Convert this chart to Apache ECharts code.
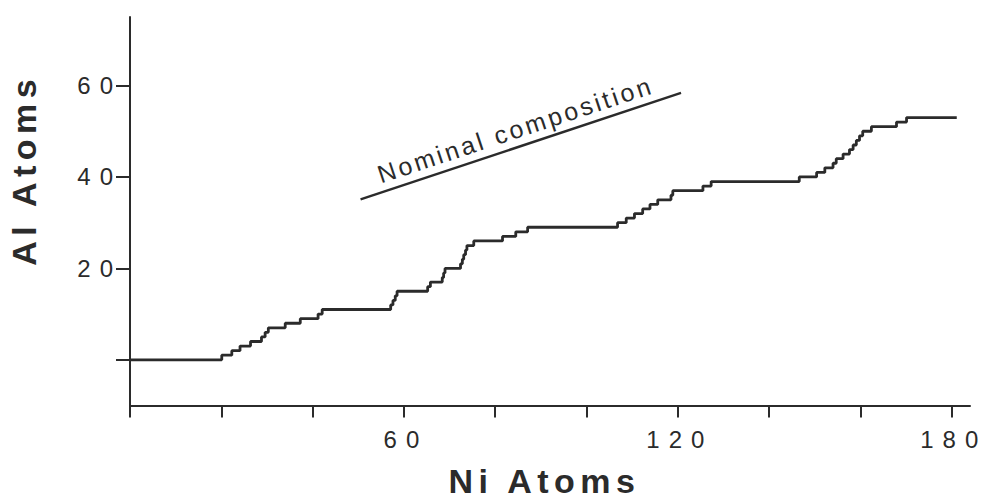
<!DOCTYPE html>
<html>
<head>
<meta charset="utf-8">
<script src="https://cdn.jsdelivr.net/npm/echarts@6/dist/echarts.min.js"></script>
<style>
html,body{margin:0;padding:0;background:#ffffff;}
#chart{width:987px;height:498px;}
</style>
</head>
<body>
<div id="chart"></div>
<script>
// Ni atom count at which each Al atom is detected (step ladder)
const niAtoms = [0,
  20.1, 22.3, 24.1, 26.4, 28.8, 29.6, 30.3,
  34.0, 37.3, 41.2, 42.1,
  57.1, 57.6, 58.1, 58.5,
  65.2, 65.8,
  68.4, 68.7, 69.0,
  72.4, 72.8, 73.1, 73.5, 73.8,
  75.3, 81.6, 84.5, 87.1,
  106.8, 108.7, 110.5, 112.3, 113.9, 115.6, 118.5, 118.9,
  125.5, 127.3,
  146.6, 150.4, 152.2, 154.0, 154.7, 156.2, 157.6, 158.4, 159.1, 159.8, 160.5,
  162.4, 167.9, 170.1,
  181.1];
const alAtoms = [0,
  1, 2, 3, 4, 5, 6, 7,
  8, 9, 10, 11,
  12, 13, 14, 15,
  16, 17,
  18, 19, 20,
  21, 22, 23, 24, 25,
  26, 27, 28, 29,
  30, 31, 32, 33, 34, 35, 36, 37,
  38, 39,
  40, 41, 42, 43, 44, 45, 46, 47, 48, 49, 50,
  51, 52, 53,
  53];

// Nominal composition reference line
const nominalNi = [50.5, 120.7];
const nominalAl = [35.1, 58.4];
const nominalLabel = 'Nominal composition';

// Ticks and labels
const xTickValues = [0, 20, 40, 60, 80, 100, 120, 140, 160, 180];
const xLabelValues = [60, 120, 180];
const yTickValues = [0, 20, 40, 60];
const yLabelValues = [20, 40, 60];

const ink = '#2b2b2b';
const font = 'Liberation Sans';

const chart = echarts.init(document.getElementById('chart'), null, {renderer: 'svg'});

const option = {
  animation: false,
  backgroundColor: '#ffffff',
  grid: {left: 130, right: 17, top: 17, bottom: 92.5, containLabel: false, outerBoundsMode: 'none'},
  xAxis: {
    type: 'value', min: 0, max: 184,
    axisLine: {show: true, onZero: false, lineStyle: {color: ink, width: 2}},
    axisTick: {show: true, inside: false, length: 12, customValues: xTickValues, lineStyle: {color: ink, width: 2}},
    axisLabel: {customValues: xLabelValues, margin: 22, fontSize: 24, color: ink, fontFamily: font, padding: [0, 0, 0, 4]},
    splitLine: {show: false},
    name: 'Ni Atoms', nameLocation: 'middle', nameGap: 58,
    nameTextStyle: {fontSize: 34, fontWeight: 'bold', color: ink, fontFamily: font, padding: [0, 11, 0, 0]}
  },
  yAxis: {
    type: 'value', min: -10, max: 75,
    axisLine: {show: true, onZero: false, lineStyle: {color: ink, width: 2}},
    axisTick: {show: true, inside: false, length: 14, customValues: yTickValues, lineStyle: {color: ink, width: 2}},
    axisLabel: {customValues: yLabelValues, margin: 8, fontSize: 24, color: ink, fontFamily: font},
    splitLine: {show: false},
    name: 'Al Atoms', nameLocation: 'middle', nameGap: 89, nameRotate: 90,
    nameTextStyle: {fontSize: 34, fontWeight: 'bold', color: ink, fontFamily: font, padding: [0, 0, 0, 83]}
  },
  series: [
    {
      name: 'Al vs Ni atoms',
      type: 'line',
      step: 'end',
      showSymbol: false,
      symbol: 'none',
      lineStyle: {color: ink, width: 2.8},
      data: niAtoms.map((n, i) => [n, alAtoms[i]])
    },
    {
      name: nominalLabel,
      type: 'line',
      showSymbol: false,
      symbol: 'none',
      lineStyle: {color: ink, width: 2.4},
      data: nominalNi.map((n, i) => [n, nominalAl[i]]),
      markLine: {
        silent: true,
        symbol: ['none', 'none'],
        lineStyle: {color: 'rgba(0,0,0,0)', width: 1, type: 'solid'},
        label: {
          show: true, position: 'insideMiddleTop', distance: 5,
          formatter: nominalLabel, fontSize: 25, color: ink, fontFamily: font
        },
        data: [[{coord: [nominalNi[0], nominalAl[0]]}, {coord: [nominalNi[1], nominalAl[1]]}]]
      }
    }
  ]
};

chart.setOption(option);

function applySpacing() {
  document.querySelectorAll('#chart svg text').forEach(t => {
    const fs = parseFloat(getComputedStyle(t).fontSize);
    let ls = 0;
    if (Math.abs(fs - 24) < 0.5) ls = 9;
    else if (Math.abs(fs - 34) < 0.5) ls = 5.5;
    else if (Math.abs(fs - 25) < 0.5) ls = 3;
    if (ls) t.setAttribute('letter-spacing', ls + 'px');
  });
}
chart.on('finished', applySpacing);
applySpacing();
requestAnimationFrame(applySpacing);
</script>
</body>
</html>
